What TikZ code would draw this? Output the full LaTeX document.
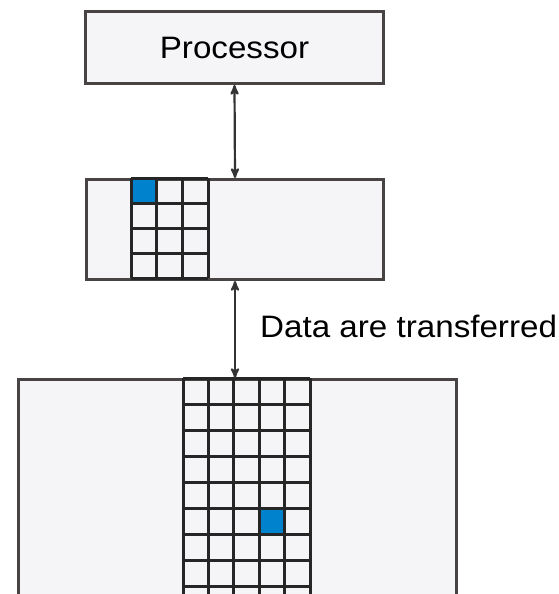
\documentclass[tikz,border=0pt]{standalone}
\usepackage{fontspec}
\setmainfont{Liberation Sans}
\usetikzlibrary{arrows,positioning}
\definecolor{boxfill}{RGB}{245,245,247}
\definecolor{boxline}{RGB}{72,68,68}
\definecolor{cellblue}{RGB}{0,130,205}

\begin{document}
\begin{tikzpicture}[x=1pt,y=-1pt,
  unit/.style={draw=boxline,line width=3pt,fill=boxfill,inner sep=0pt,anchor=north west},
  gridline/.style={line width=3pt,draw=black!85},
  link/.style={<->,>=stealth',line width=2.2pt,draw=black!80},
  bigfont/.style={font=\fontsize{31}{31}\selectfont}]
\useasboundingbox (0,0) rectangle (559,594);
\clip (0,0) rectangle (559,594);

% processor, cache and memory
\node[unit,bigfont,minimum width=298pt,minimum height=72pt] (proc) at (84,10) {\scalebox{1.07}[1]{Processor}};
\node[unit,minimum width=297pt,minimum height=100pt] (cache) at (85,178) {};
\node[unit,minimum width=438pt,minimum height=250pt] (mem) at (17,378) {};

% cache blocks
\fill[cellblue] (131,178) rectangle ++(25.7,25);
\foreach \i in {0,...,3}
  \draw[gridline] (131+\i*25.7,178) -- ++(0,100);
\foreach \j in {0,...,4}
  \draw[gridline] (131,178+\j*25) -- (208,178+\j*25);

% memory blocks
\fill[cellblue] (183+3*25.4,378+5*26) rectangle ++(25.4,26);
\foreach \i in {0,...,5}
  \draw[gridline] (183+\i*25.4,378) -- ++(0,230);
\foreach \j in {0,...,8}
  \draw[gridline] (183,378+\j*26) -- (310,378+\j*26);

% transfers
\draw[link] (proc.south) -- (cache.north);
\draw[link] (cache.south) -- (cache.south |- mem.north) coordinate[midway] (mid);
\node[bigfont,inner sep=0pt,right=25pt of mid,yshift=3pt] (xfer) {\scalebox{1.07}[1]{Data are transferred}};
\end{tikzpicture}
\end{document}
